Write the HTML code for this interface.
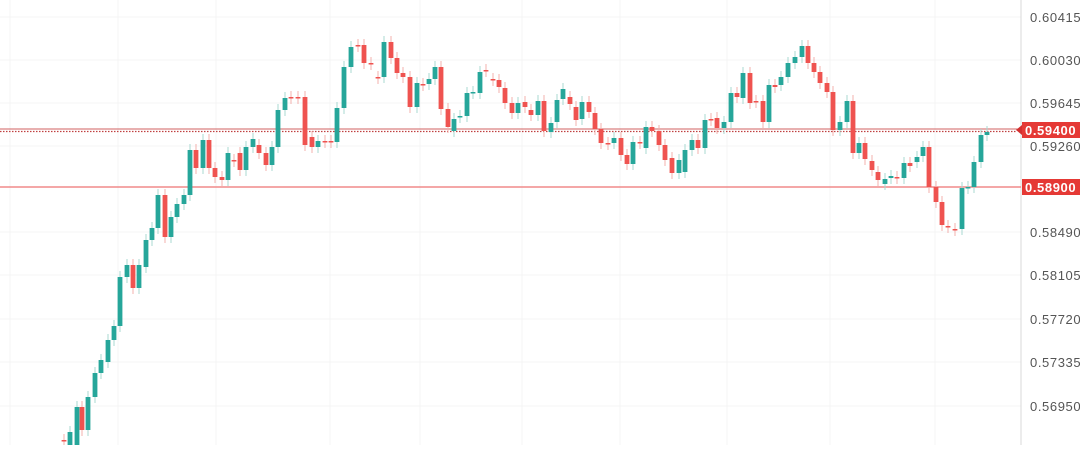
<!DOCTYPE html>
<html><head><meta charset="utf-8"><style>
html,body{margin:0;padding:0;background:#fff;}
body{width:1080px;height:445px;overflow:hidden;font-family:"Liberation Sans",sans-serif;}
</style></head><body>
<svg id="s" width="1080" height="445" xmlns="http://www.w3.org/2000/svg">
<g stroke="#f4f4f4" stroke-width="1">
<line x1="0" y1="17" x2="1021" y2="17"/><line x1="0" y1="60" x2="1021" y2="60"/><line x1="0" y1="103" x2="1021" y2="103"/><line x1="0" y1="146" x2="1021" y2="146"/><line x1="0" y1="232" x2="1021" y2="232"/><line x1="0" y1="275" x2="1021" y2="275"/><line x1="0" y1="319" x2="1021" y2="319"/><line x1="0" y1="362" x2="1021" y2="362"/><line x1="0" y1="406" x2="1021" y2="406"/>
<line x1="10" y1="0" x2="10" y2="445"/><line x1="118" y1="0" x2="118" y2="445"/><line x1="216" y1="0" x2="216" y2="445"/><line x1="330" y1="0" x2="330" y2="445"/><line x1="420" y1="0" x2="420" y2="445"/><line x1="522" y1="0" x2="522" y2="445"/><line x1="620" y1="0" x2="620" y2="445"/><line x1="727" y1="0" x2="727" y2="445"/><line x1="830" y1="0" x2="830" y2="445"/><line x1="935" y1="0" x2="935" y2="445"/>
</g>
<line x1="1021" y1="0" x2="1021" y2="445" stroke="#d8d8d8" stroke-width="1"/>
<line x1="0" y1="129" x2="1021" y2="129" stroke="#d06060" stroke-width="1"/>
<line x1="0" y1="131.5" x2="1017" y2="131.5" stroke="#c04040" stroke-width="1.2" stroke-dasharray="1.5,1.5"/>
<line x1="0" y1="187" x2="1021" y2="187" stroke="#f08a8a" stroke-width="1.6"/>
<g id="c"></g>
<polygon points="1016,130 1022,125 1022,135" fill="#d32f2f"/>
<rect x="1022" y="122" width="58" height="16" fill="#e53935"/>
<rect x="1022" y="179" width="58" height="16" fill="#e53935"/>
<g font-size="13" fill="#555" font-family="Liberation Sans,sans-serif" letter-spacing="0.6">
<text x="1030" y="22">0.60415</text><text x="1030" y="65">0.60030</text><text x="1030" y="108">0.59645</text><text x="1030" y="151">0.59260</text><text x="1030" y="237">0.58490</text><text x="1030" y="280">0.58105</text><text x="1030" y="324">0.57720</text><text x="1030" y="367">0.57335</text><text x="1030" y="411">0.56950</text>
<text x="1025" y="135" fill="#fff" font-weight="bold">0.59400</text>
<text x="1025" y="192" fill="#fff" font-weight="bold">0.58900</text>
</g>
</svg>
<script>
var d=[[64,440,441],[70,445,432],[77,445,407],[82,407,430],[88,430,397],[95,397,373],[101,373,360],[108,362,340],[114,340,326],[120,326,277],[127,277,265],[133,265,288],[139,288,265],[146,267,240],[152,240,228],[158,228,195],[165,195,237],[171,237,217],[177,217,204],[184,204,195],[190,195,150],[196,150,168],[203,168,140],[209,140,168],[215,168,177],[222,177,180],[228,180,153],[234,160,161],[240,153,170],[246,170,147],[253,147,139],[259,145,153],[266,153,165],[272,165,147],[278,147,110],[285,110,98],[291,97,98],[298,97,98],[305,97,145],[312,137,147],[318,147,141],[325,141,142],[331,141,142],[337,142,108],[344,108,67],[351,67,47],[358,45,46],[364,45,63],[371,63,64],[378,77,78],[384,77,42],[391,42,58],[397,58,73],[403,73,77],[410,77,107],[417,107,83],[423,84,85],[429,84,79],[435,79,67],[441,67,109],[448,109,127],[454,131,119],[460,117,116],[467,116,93],[473,93,92],[480,93,72],[486,70,71],[493,79,80],[499,80,87],[505,88,103],[512,103,113],[518,113,103],[525,102,107],[531,110,115],[538,115,101],[544,101,131],[551,132,123],[557,122,100],[563,99,89],[570,97,104],[576,107,120],[582,119,102],[589,102,112],[595,113,129],[601,129,143],[608,143,144],[614,143,138],[621,138,155],[627,155,164],[633,164,142],[640,142,143],[646,148,127],[652,127,131],[659,131,145],[665,145,160],[672,158,173],[679,173,160],[685,172,150],[692,150,140],[698,140,148],[705,148,120],[711,119,120],[717,118,128],[724,128,122],[731,122,93],[737,93,97],[743,98,73],[750,73,103],[756,101,102],[763,101,122],[769,122,85],[775,85,87],[781,85,77],[788,77,63],[795,63,57],[802,57,46],[808,46,63],[814,63,72],[820,72,83],[827,83,92],[833,92,130],[840,130,122],[847,122,101],[853,101,153],[859,153,143],[865,143,159],[872,161,170],[878,172,180],[885,184,179],[891,178,176],[897,177,178],[904,178,163],[910,163,166],[917,162,157],[923,156,147],[929,147,187],[936,187,202],[942,202,225],[948,226,227],[955,229,230],[962,229,188],[968,188,187],[974,187,162],[981,162,135],[987,135,132]];
var g=document.getElementById('c'),h='';
d.forEach(function(c){var x=c[0],o=c[1],cl=c[2],up=cl<o||(cl==o);var col=(cl<o||Math.abs(cl-o)<=1&&cl<=o)?'#26a69a':'#ef5350';if(cl>o)col='#ef5350';
var t=Math.min(o,cl),b=Math.max(o,cl);var hh=Math.max(b-t,1.5);
h+='<line x1="'+x+'" x2="'+x+'" y1="'+(t-6)+'" y2="'+(b+6)+'" stroke="'+(col=='#ef5350'?'#f3b0ae':'#a8d8d2')+'" stroke-width="1"/>';
h+='<rect x="'+(x-2.4)+'" y="'+t+'" width="4.8" height="'+hh+'" fill="'+col+'"/>';});
g.innerHTML=h;
</script>
</body></html>
